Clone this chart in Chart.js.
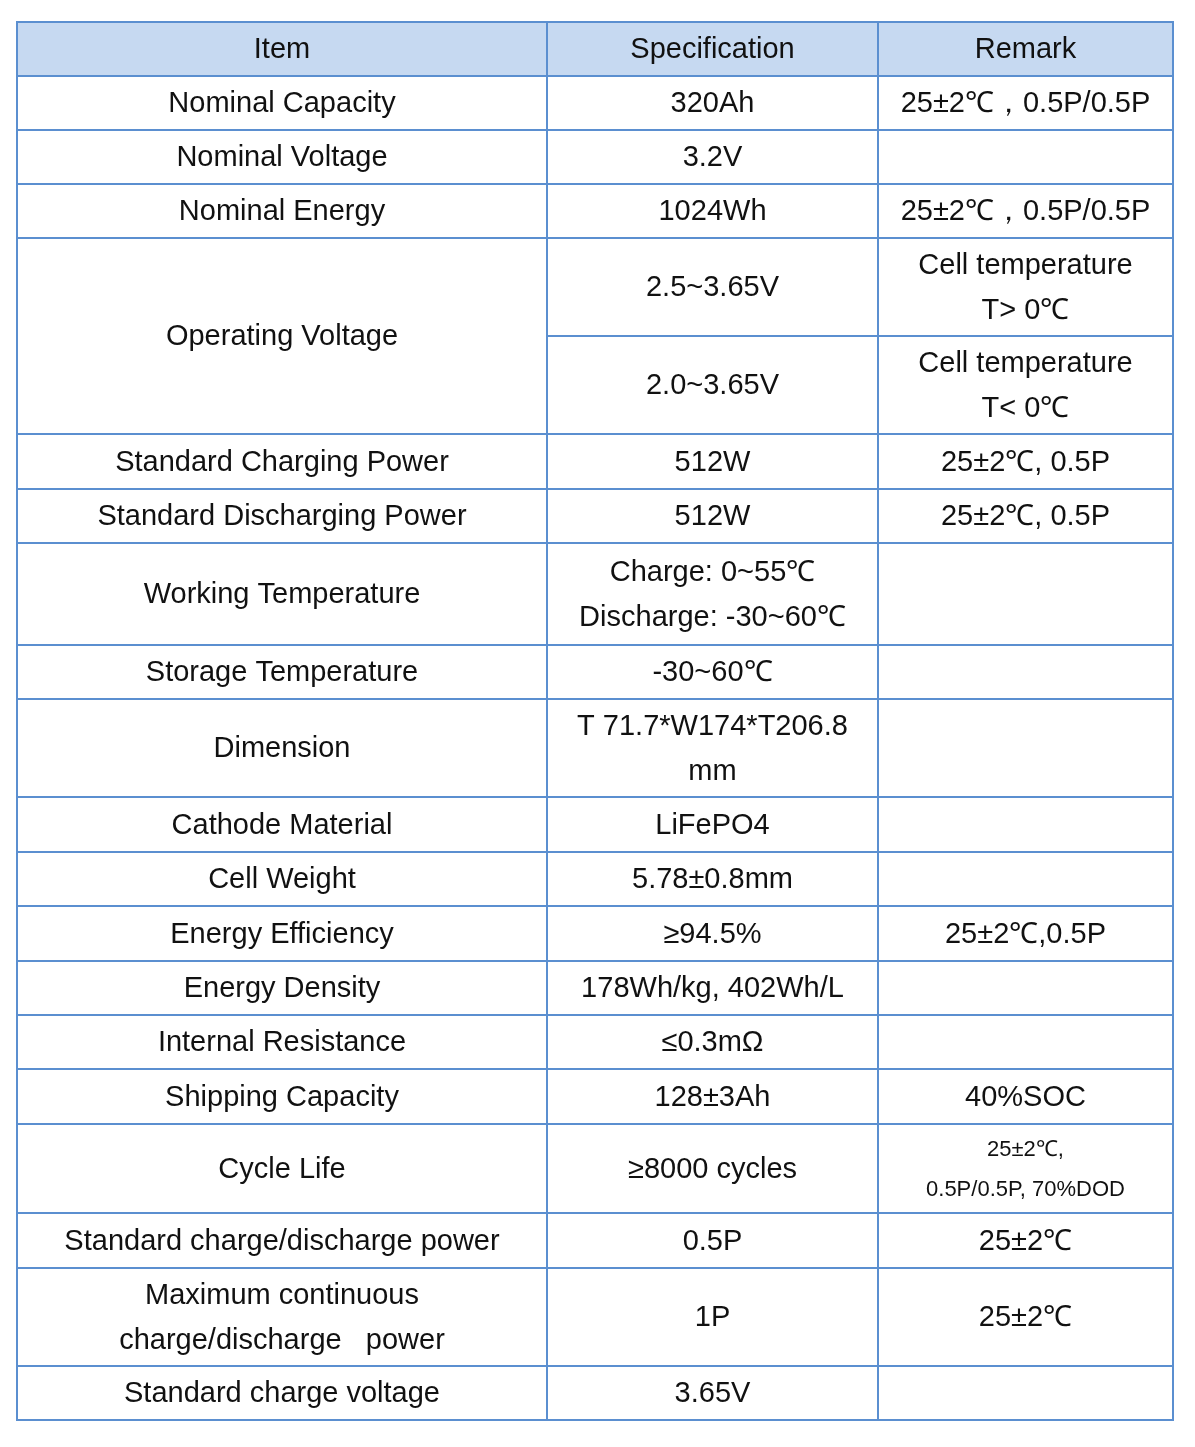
<!DOCTYPE html>
<html><head><meta charset="utf-8">
<script src="https://cdn.jsdelivr.net/npm/chart.js@4"></script>
<style>html,body{margin:0;background:#fff}</style>
</head><body>
<canvas id="c" width="1195" height="1447" style="width:1195px;height:1447px"></canvas>
<script>
// column edges and row edges (table units)
const colEdges = [0, 530, 861, 1156];
const rowEdges = [0, 54, 108, 162, 216, 314, 412, 467, 521, 623, 677, 775, 830, 884, 939, 993, 1047, 1102, 1191, 1246, 1344, 1398];

const headers = ["Item", "Specification", "Remark"];
const items = [
  [1, 1, "Nominal Capacity"], [2, 2, "Nominal Voltage"], [3, 3, "Nominal Energy"],
  [4, 5, "Operating Voltage"], [6, 6, "Standard Charging Power"], [7, 7, "Standard Discharging Power"],
  [8, 8, "Working Temperature"], [9, 9, "Storage Temperature"], [10, 10, "Dimension"],
  [11, 11, "Cathode Material"], [12, 12, "Cell Weight"], [13, 13, "Energy Efficiency"],
  [14, 14, "Energy Density"], [15, 15, "Internal Resistance"], [16, 16, "Shipping Capacity"],
  [17, 17, "Cycle Life"], [18, 18, "Standard charge/discharge power"],
  [19, 19, "Maximum continuous\ncharge/discharge   power"], [20, 20, "Standard charge voltage"]
];
const specs = ["320Ah", "3.2V", "1024Wh", "2.5~3.65V", "2.0~3.65V", "512W", "512W",
  "Charge: 0~55℃\nDischarge: -30~60℃", "-30~60℃", "T 71.7*W174*T206.8\nmm", "LiFePO4",
  "5.78±0.8mm", "≥94.5%", "178Wh/kg, 402Wh/L", "≤0.3mΩ", "128±3Ah", "≥8000 cycles",
  "0.5P", "1P", "3.65V"];
const remarks = ["25±2℃，0.5P/0.5P", "", "25±2℃，0.5P/0.5P", "Cell temperature\nT> 0℃",
  "Cell temperature\nT< 0℃", "25±2℃, 0.5P", "25±2℃, 0.5P", "", "", "", "", "", "25±2℃,0.5P",
  "", "", "40%SOC", "25±2℃,\n0.5P/0.5P, 70%DOD", "25±2℃", "25±2℃", ""];

const cells = [];
headers.forEach((h, i) => cells.push({c: i, r0: 0, r1: 0, t: h, head: true}));
items.forEach(([a, b, t]) => cells.push({c: 0, r0: a, r1: b, t}));
specs.forEach((t, i) => cells.push({c: 1, r0: i + 1, r1: i + 1, t}));
remarks.forEach((t, i) => cells.push({c: 2, r0: i + 1, r1: i + 1, t, small: i === 16}));

const tablePlugin = {
  id: 'table',
  afterDatasetsDraw(chart) {
    const {ctx, scales: {x, y}} = chart;
    ctx.save();
    cells.forEach(cell => {
      const x0 = x.getPixelForValue(colEdges[cell.c]), x1 = x.getPixelForValue(colEdges[cell.c + 1]);
      const y0 = y.getPixelForValue(rowEdges[cell.r0]), y1 = y.getPixelForValue(rowEdges[cell.r1 + 1]);
      if (cell.head) { ctx.fillStyle = '#c6d9f1'; ctx.fillRect(x0, y0, x1 - x0, y1 - y0); }
      ctx.strokeStyle = '#5b8fd0'; ctx.lineWidth = 2;
      ctx.strokeRect(x0, y0, x1 - x0, y1 - y0);
      const size = cell.small ? 22 : 29, lh = cell.small ? 40 : 45;
      ctx.font = size + 'px "Liberation Sans", Arial, sans-serif';
      ctx.fillStyle = '#111'; ctx.textAlign = 'center'; ctx.textBaseline = 'middle';
      const lines = cell.t.split('\n');
      const cy = (y0 + y1) / 2 + 1, cx = (x0 + x1) / 2;
      lines.forEach((l, i) => ctx.fillText(l, cx, cy + (i - (lines.length - 1) / 2) * lh));
    });
    ctx.restore();
  }
};

new Chart(document.getElementById('c'), {
  type: 'scatter',
  data: {datasets: [{data: [], pointRadius: 0}]},
  options: {
    responsive: false, animation: false, devicePixelRatio: 1,
    layout: {padding: {left: 17, right: 22, top: 22, bottom: 27}},
    plugins: {legend: {display: false}, tooltip: {enabled: false}},
    scales: {
      x: {display: false, min: 0, max: 1156},
      y: {display: false, min: 0, max: 1398, reverse: true}
    }
  },
  plugins: [tablePlugin]
});
</script>
</body></html>
